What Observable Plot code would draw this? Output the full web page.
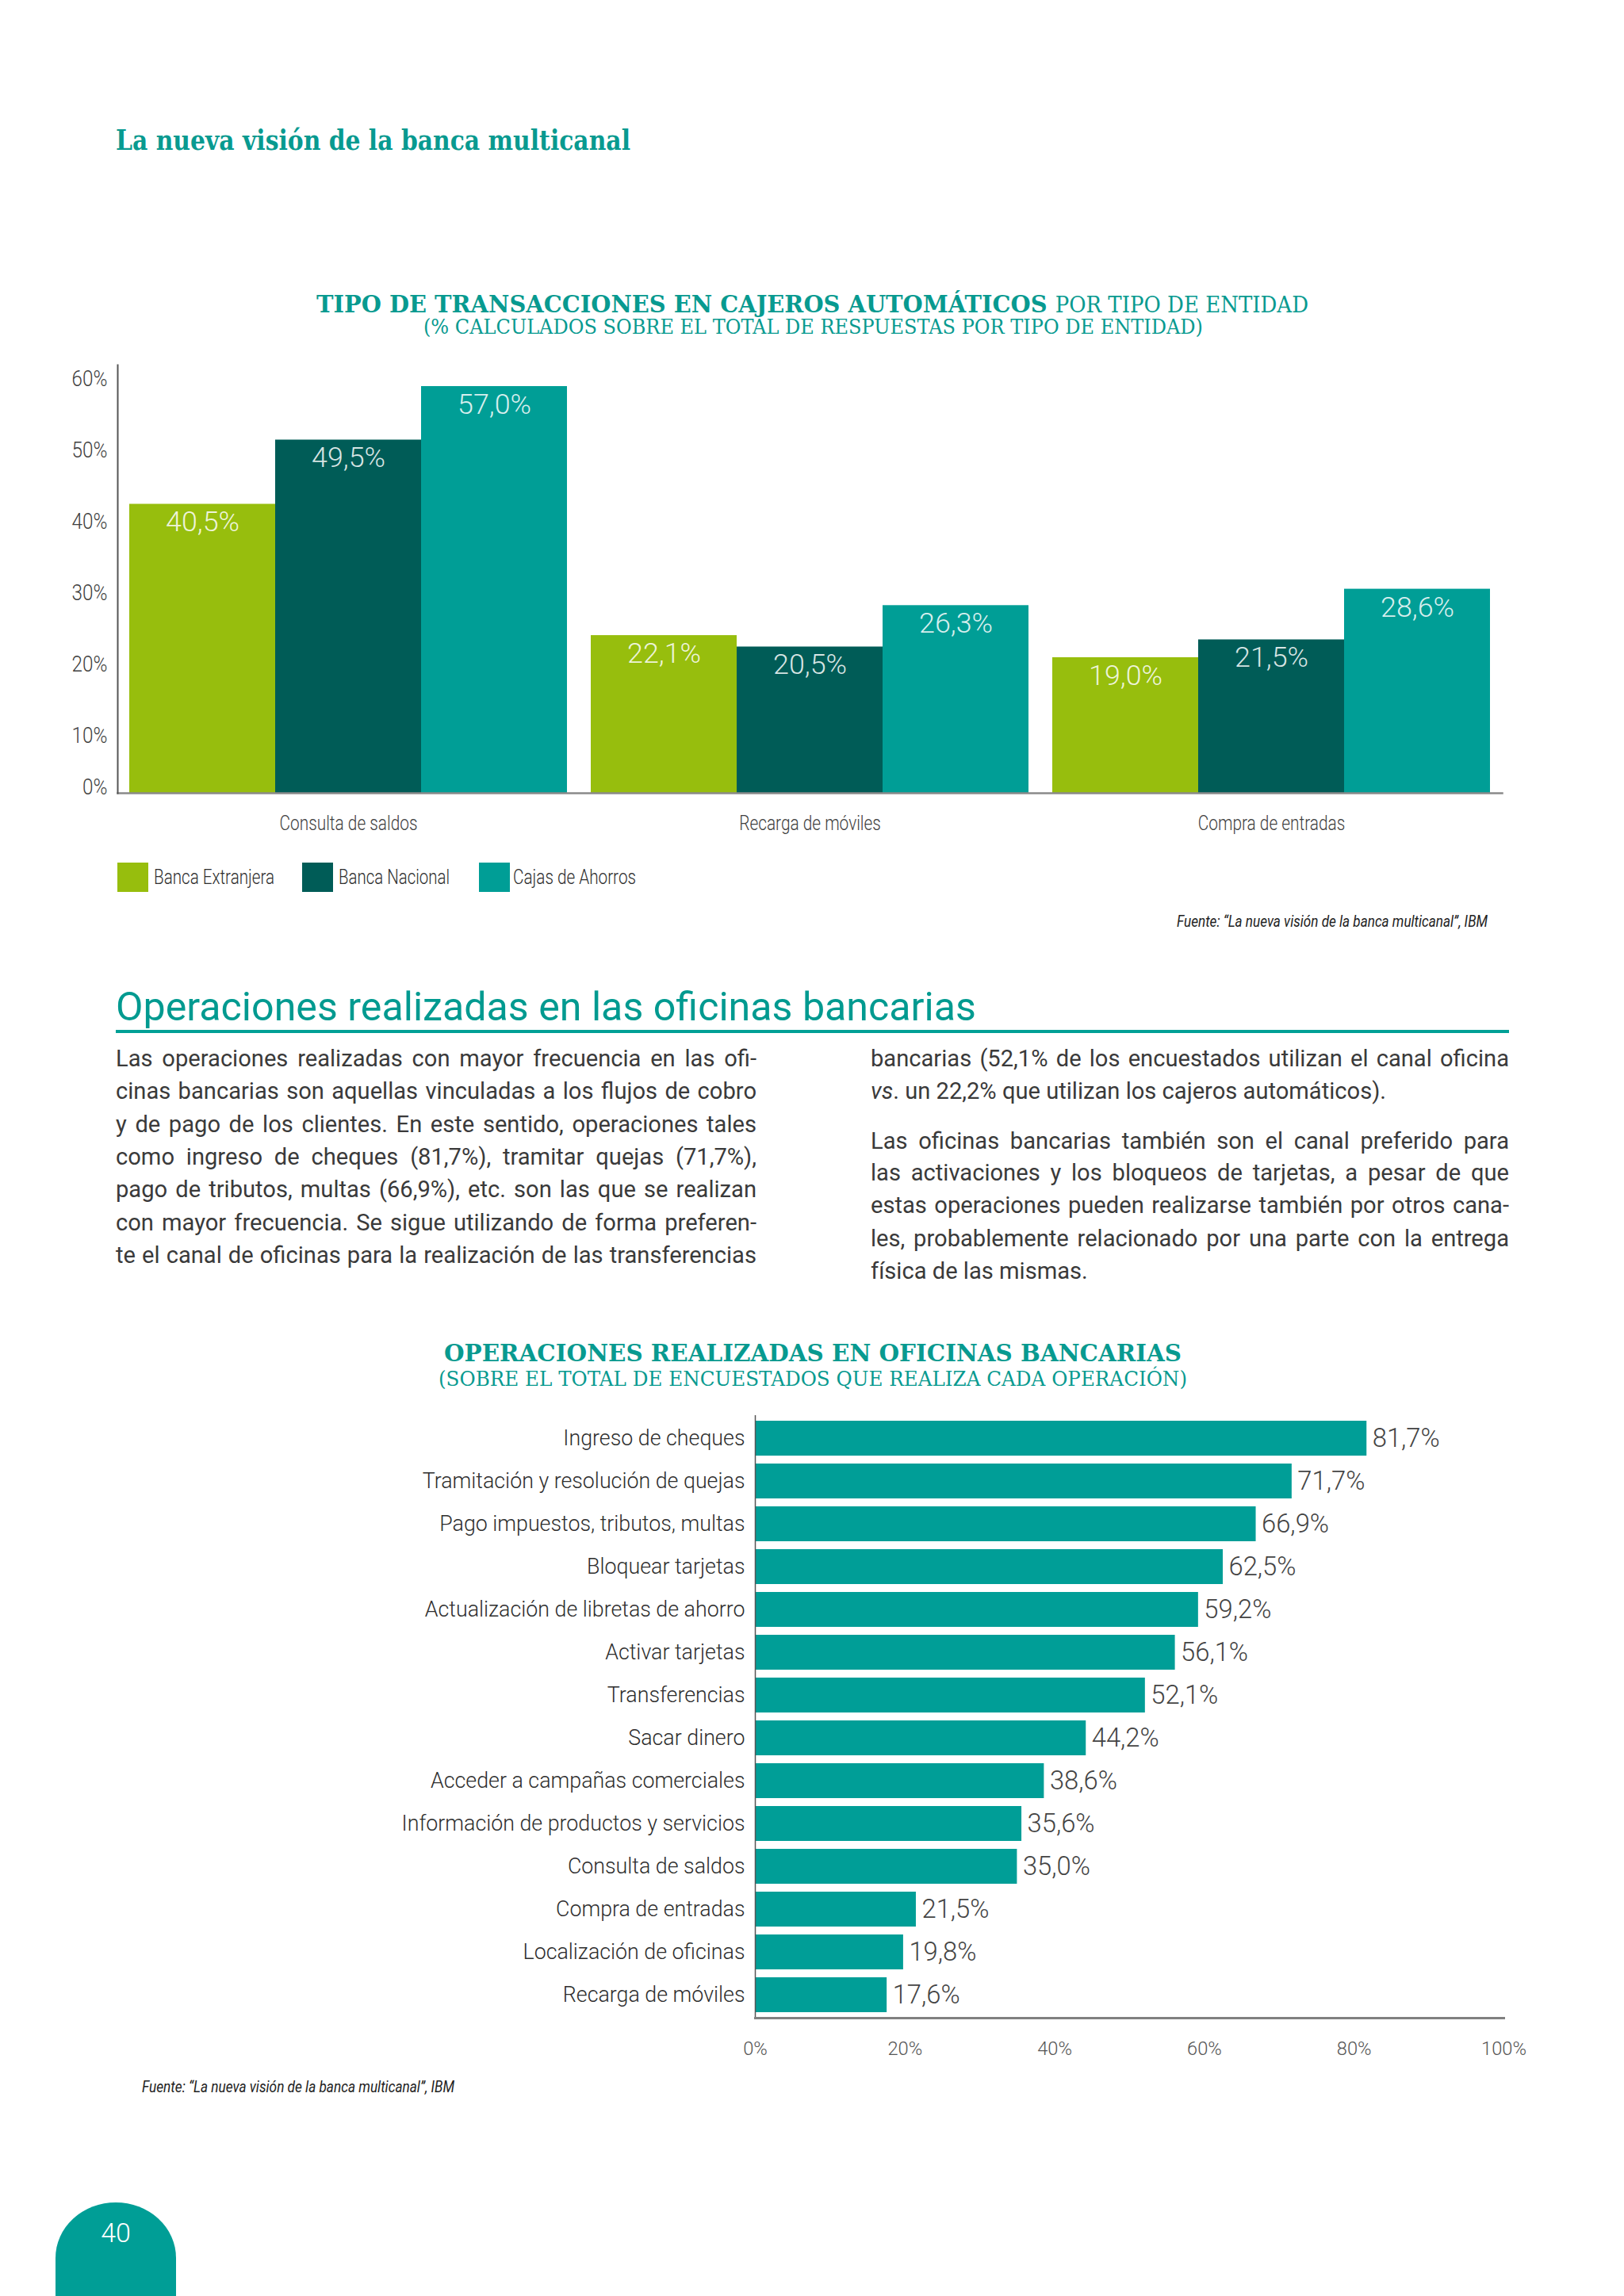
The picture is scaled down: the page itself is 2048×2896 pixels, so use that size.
<!DOCTYPE html>
<html><head><meta charset="utf-8">
<script src="https://cdn.jsdelivr.net/npm/d3@7"></script>
<script src="https://cdn.jsdelivr.net/npm/@observablehq/plot@0.6"></script>
<style>
html,body{margin:0;padding:0;background:#fff;overflow:hidden;}
#page{position:relative;width:2048px;height:2896px;overflow:hidden;background:#fff;}
.abs{position:absolute;white-space:nowrap;line-height:1;}
#page svg{position:absolute;left:0;}
</style></head><body><div id="page"></div>
<script>
// ---------- data ----------
const atmCategories = ["Consulta de saldos", "Recarga de móviles", "Compra de entradas"];
const atmSeries = ["Banca Extranjera", "Banca Nacional", "Cajas de Ahorros"];
const bancaExtranjera = [40.5, 22.1, 19.0];
const bancaNacional = [49.5, 20.5, 21.5];
const cajasAhorros = [57.0, 26.3, 28.6];
const seriesColors = ["#97be0d", "#005c57", "#009e96"];
const atmTicks = [0, 10, 20, 30, 40, 50, 60];

const officeOperations = [
  "Ingreso de cheques", "Tramitación y resolución de quejas", "Pago impuestos, tributos, multas",
  "Bloquear tarjetas", "Actualización de libretas de ahorro", "Activar tarjetas", "Transferencias",
  "Sacar dinero", "Acceder a campañas comerciales", "Información de productos y servicios",
  "Consulta de saldos", "Compra de entradas", "Localización de oficinas", "Recarga de móviles"
];
const officeValues = [81.7, 71.7, 66.9, 62.5, 59.2, 56.1, 52.1, 44.2, 38.6, 35.6, 35.0, 21.5, 19.8, 17.6];
const officeTicks = [0, 20, 40, 60, 80, 100];

// ---------- helpers ----------
const page = document.getElementById("page");
const SANS = "Roboto, 'Liberation Sans', Arial, sans-serif";
const SERIF = "'DejaVu Serif', 'Liberation Serif', serif";
const TEAL = "#089a90";
const CONDENSE = 0.8;
const fmt = v => v.toFixed(1).replace(".", ",") + "%";

const ctx = document.createElement("canvas").getContext("2d");
function fitSize(text, target, weight = 300, family = SANS, base = 30) {
  ctx.font = `${weight} ${base}px ${family}`;
  return base * target / ctx.measureText(text).width;
}
function place(html, {left, cy, width, size, family = SANS, weight = 300, style = "normal", color = "#333"}) {
  const el = document.createElement("div");
  el.className = "abs";
  Object.assign(el.style, {left: left + "px", top: cy + "px", fontSize: size + "px",
    fontFamily: family, fontWeight: weight, fontStyle: style, color});
  el.innerHTML = html;
  page.appendChild(el);
  const sx = width ? width / el.getBoundingClientRect().width : 1;
  el.style.transformOrigin = "0 0";
  el.style.transform = `translateY(-50%) scaleX(${sx})`;
  return el;
}
function bodyLine(html, left, cy, width, size, justify) {
  const el = document.createElement("div");
  el.className = "abs";
  Object.assign(el.style, {left: left + "px", top: cy + "px", fontSize: size + "px",
    fontFamily: SANS, fontWeight: 400, color: "#3a3a3a"});
  el.innerHTML = html;
  page.appendChild(el);
  if (justify) {
    const natural = el.getBoundingClientRect().width;
    const spaces = (el.textContent.match(/ /g) || []).length;
    el.style.wordSpacing = ((width - natural) / spaces) + "px";
  }
  el.style.transform = "translateY(-50%)";
}
// condensed look for SVG axis labels
function condense(svg, selector, factor) {
  svg.querySelectorAll(selector).forEach(t => {
    const w = t.getComputedTextLength();
    t.setAttribute("textLength", w * factor);
    t.setAttribute("lengthAdjust", "spacingAndGlyphs");
  });
}

// ---------- page header ----------
place("La nueva visión de la banca multicanal", {left: 146, cy: 176, width: 649, size: 36, family: SERIF, weight: 700, color: TEAL});

// ---------- chart 1 titles ----------
place(`<span style="font-weight:700">TIPO DE TRANSACCIONES EN CAJEROS AUTOMÁTICOS</span> <span style="font-weight:400;font-size:0.9em">POR TIPO DE ENTIDAD</span>`,
  {left: 399, cy: 384, width: 1251, size: 30, family: SERIF, weight: 700, color: TEAL});
place("(% CALCULADOS SOBRE EL TOTAL DE RESPUESTAS POR TIPO DE ENTIDAD)",
  {left: 534, cy: 412, width: 983, size: 26, family: SERIF, weight: 400, color: TEAL});

// ---------- chart 1 ----------
const atmData = [];
const atmValues = [bancaExtranjera, bancaNacional, cajasAhorros];
atmCategories.forEach((c, i) => atmSeries.forEach((s, j) => atmData.push({category: c, series: s, value: atmValues[j][i]})));

const yTickSize = fitSize("60%", 45 / 0.88);
const fxSize = fitSize("Consulta de saldos", 174 / CONDENSE);
const valSize1 = fitSize("57,0%", 93);

const chart1 = Plot.plot({
  width: 2048, height: 630,
  marginLeft: 148, marginRight: 154, marginTop: 20, marginBottom: 70,
  style: {fontFamily: SANS, background: "transparent", color: "#444"},
  fx: {domain: atmCategories, padding: 0, label: null},
  x: {domain: atmSeries, paddingInner: 0, paddingOuter: 0.075, axis: null},
  y: {domain: [0, 60], label: null},
  color: {domain: atmSeries, range: seriesColors},
  marks: [
    Plot.barY(atmData, {fx: "category", x: "series", y: "value", fill: "series"}),
    Plot.text(atmData, {fx: "category", x: "series", y: "value", text: d => fmt(d.value), dy: 23,
      fill: "white", fillOpacity: 0.85, fontSize: valSize1, fontWeight: 300}),
    Plot.axisY({ticks: atmTicks.filter(t => t > 0), tickSize: 0, tickPadding: 13, tickFormat: d => d + "%",
      dy: 18, fontSize: yTickSize, fontWeight: 300, label: null, fill: "#3f3f3f"}),
    Plot.axisY({ticks: [0], tickSize: 0, tickPadding: 13, tickFormat: d => d + "%",
      dy: -7, fontSize: yTickSize, fontWeight: 300, label: null, fill: "#3f3f3f"}),
    Plot.axisFx({anchor: "bottom", tickSize: 0, tickPadding: 28, fontSize: fxSize, fontWeight: 300, label: null, fill: "#3f3f3f"}),
    Plot.frame({anchor: "bottom", facet: "super", stroke: "#8a8a8a", strokeWidth: 2.5}),
    Plot.frame({anchor: "left", facetAnchor: "left", stroke: "#555", strokeWidth: 2})
  ]
});
chart1.style.top = "440px";
page.appendChild(chart1);
condense(chart1, 'g[aria-label="fx-axis tick label"] text', CONDENSE);
condense(chart1, 'g[aria-label="y-axis tick label"] text', 0.88);

// legend
const legSize = fitSize("Banca Extranjera", 152 / CONDENSE);
const legSwatchX = [148, 381, 604];
const legLabelX = [194, 427, 647];
const legWidths = [152, 140, 155];
atmSeries.forEach((s, i) => {
  const sw = document.createElement("div");
  Object.assign(sw.style, {position: "absolute", left: legSwatchX[i] + "px", top: "1088px", width: "39px", height: "37px", background: seriesColors[i]});
  page.appendChild(sw);
  place(s, {left: legLabelX[i], cy: 1107, width: legWidths[i], size: legSize, weight: 300, color: "#2e2e2e"});
});

// source 1
place("Fuente: “La nueva visión de la banca multicanal”, IBM", {left: 1484, cy: 1162, width: 392, size: 21, weight: 400, style: "italic", color: "#222"});

// ---------- section text ----------
place("Operaciones realizadas en las oficinas bancarias", {left: 146, cy: 1270, width: 1085, size: 50, weight: 400, color: "#009a90"});
const rule = document.createElement("div");
Object.assign(rule.style, {position: "absolute", left: "146px", top: "1299px", width: "1757px", height: "4px", background: "#00a096"});
page.appendChild(rule);

const bodySize = fitSize("física de las mismas.", 274, 400, SANS, 30);
const leftLines = [
  "Las operaciones realizadas con mayor frecuencia en las ofi-",
  "cinas bancarias son aquellas vinculadas a los flujos de cobro",
  "y de pago de los clientes. En este sentido, operaciones tales",
  "como ingreso de cheques (81,7%), tramitar quejas (71,7%),",
  "pago de tributos, multas (66,9%), etc. son las que se realizan",
  "con mayor frecuencia. Se sigue utilizando de forma preferen-",
  "te el canal de oficinas para la realización de las transferencias"
];
leftLines.forEach((l, i) => bodyLine(l, 146, 1336 + i * 41.3, 808, bodySize, true));
const rightLines = [
  ["bancarias (52,1% de los encuestados utilizan el canal oficina", 1336, true],
  ["<i>vs</i>. un 22,2% que utilizan los cajeros automáticos).", 1377, false],
  ["Las oficinas bancarias también son el canal preferido para", 1440, true],
  ["las activaciones y los bloqueos de tarjetas, a pesar de que", 1480, true],
  ["estas operaciones pueden realizarse también por otros cana-", 1521, true],
  ["les, probablemente relacionado por una parte con la entrega", 1563, true],
  ["física de las mismas.", 1604, false]
];
rightLines.forEach(([l, y, j]) => bodyLine(l, 1098, y, 805, bodySize, j));

// ---------- chart 2 titles ----------
place("OPERACIONES REALIZADAS EN OFICINAS BANCARIAS", {left: 560, cy: 1707, width: 930, size: 30, family: SERIF, weight: 700, color: TEAL});
place("(SOBRE EL TOTAL DE ENCUESTADOS QUE REALIZA CADA OPERACIÓN)", {left: 553, cy: 1739, width: 944, size: 26, family: SERIF, weight: 400, color: TEAL});

// ---------- chart 2 ----------
const officeData = officeOperations.map((o, i) => ({operation: o, value: officeValues[i]}));
const catSize = fitSize("Tramitación y resolución de quejas", 407);
const valSize2 = fitSize("81,7%", 85);
const xTickSize2 = fitSize("100%", 57);

const chart2 = Plot.plot({
  width: 2048, height: 840,
  marginLeft: 952, marginRight: 152, marginTop: 20, marginBottom: 60,
  style: {fontFamily: SANS, background: "transparent", color: "#444"},
  x: {domain: [0, 100], label: null},
  y: {domain: officeOperations, paddingInner: 0.185, paddingOuter: 0.0925, label: null},
  marks: [
    Plot.barX(officeData, {y: "operation", x: "value", fill: "#009e97"}),
    Plot.text(officeData, {y: "operation", x: "value", text: d => fmt(d.value), textAnchor: "start", dx: 7,
      fontSize: valSize2, fontWeight: 300, fill: "#444"}),
    Plot.axisY({tickSize: 0, tickPadding: 13, fontSize: catSize, fontWeight: 300, label: null, fill: "#2e2e2e"}),
    Plot.axisX({ticks: officeTicks, tickSize: 0, tickPadding: 30, tickFormat: d => d + "%", fontSize: xTickSize2, fontWeight: 300, label: null, fill: "#555"}),
    Plot.ruleX([0], {stroke: "#555", strokeWidth: 1.5}),
    Plot.frame({anchor: "bottom", stroke: "#808080", strokeWidth: 3})
  ]
});
chart2.style.top = "1765px";
page.appendChild(chart2);

// source 2
place("Fuente: “La nueva visión de la banca multicanal”, IBM", {left: 179, cy: 2632, width: 394, size: 21, weight: 400, style: "italic", color: "#222"});

// page tab
const tab = document.createElement("div");
Object.assign(tab.style, {position: "absolute", left: "70px", top: "2778px", width: "152px", height: "140px", background: "#009e96", borderRadius: "76px 76px 0 0 / 70px 70px 0 0"});
page.appendChild(tab);
const num = place("40", {left: 0, cy: 2816, size: 34, color: "#fff"});
num.style.left = (146 - num.getBoundingClientRect().width / 2) + "px";
</script></body></html>
